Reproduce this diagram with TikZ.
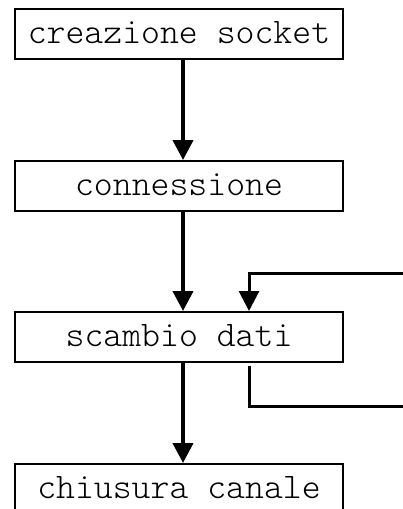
\documentclass[tikz,border=0pt]{standalone}
\usepackage{fontspec}
\setmonofont{Latin Modern Mono Light}
\usetikzlibrary{arrows.meta}
\tikzset{
  stagebox/.style={draw, line width=2pt, minimum width=328pt, minimum height=50pt,
    inner sep=0pt, font=\ttfamily\fontsize{36pt}{36pt}\selectfont,
    text height=22pt, text depth=4pt},
  flow/.style={line width=4pt, -{Triangle[width=20pt,length=20pt]}},
  loopline/.style={line width=3pt},
  looparrow/.style={line width=3pt, -{Triangle[width=20pt,length=20pt]}}
}
\begin{document}
\begin{tikzpicture}[x=1pt, y=-1pt]
  \useasboundingbox (0,0) rectangle (403,509);
  \node[stagebox] (c1) at (179,34)  {creazione socket};
  \node[stagebox] (c2) at (179,186) {connessione};
  \node[stagebox] (c3) at (179,337) {scambio dati};
  \node[stagebox] (c4) at (179,489) {chiusura canale};

  \draw[flow] ([xshift=4pt]c1.south) -- ([xshift=4pt]c2.north);
  \draw[flow] ([xshift=4pt]c2.south) -- ([xshift=4pt]c3.north);
  \draw[flow] ([xshift=4pt]c3.south) -- ([xshift=4pt]c4.north);

  % repeated exchange: loop back into the data stage
  \coordinate (inR)  at (412,273);
  \coordinate (outR) at (412,406);
  \draw[looparrow] (inR) -| ([xshift=70pt]c3.north);
  \draw[loopline] ([xshift=70pt,yshift=-3pt]c3.south) |- (outR);
\end{tikzpicture}
\end{document}
